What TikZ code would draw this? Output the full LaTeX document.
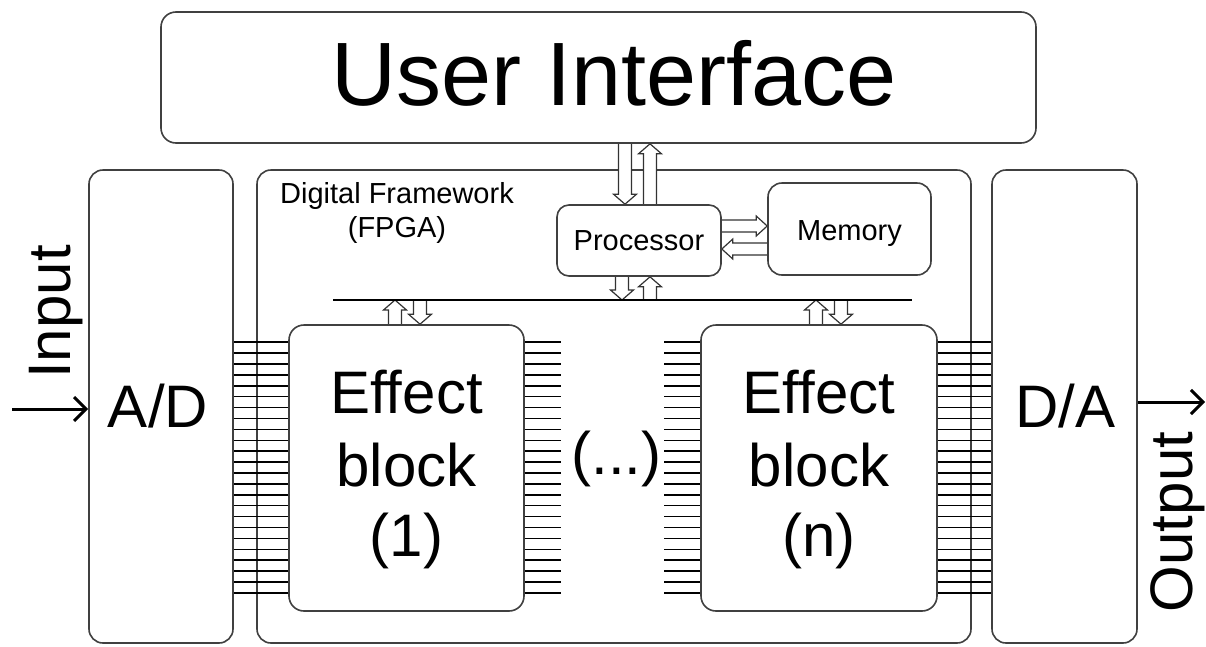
\documentclass[tikz,border=0pt]{standalone}
\usepackage{fontspec}
\setmainfont{Liberation Sans}
\usetikzlibrary{calc,arrows.meta}
\pgfdeclarelayer{back}
\pgfdeclarelayer{mid}
\pgfsetlayers{back,mid,main}

\tikzset{
  box/.style={draw=black!75, line width=1.6pt, rounded corners=14pt, fill=white,
    inner sep=0pt, anchor=center},
  smallbox/.style={box, rounded corners=12pt, font=\fontsize{29}{29}\selectfont},
  pin/.style={draw=black, line width=1.5pt},
  busline/.style={draw=black, line width=2pt},
  hollow/.style={draw=black!80, line width=1.2pt, fill=white, line join=miter},
  sig/.style={line width=3pt, -{Straight Barb[length=12pt,width=24pt,line width=3pt]}},
  big/.style={font=\fontsize{60}{60}\selectfont, anchor=base, inner sep=0pt},
  label/.style={font=\fontsize{29}{29}\selectfont, anchor=base, inner sep=0pt},
}

% vertical hollow arrow: x, from, to, direction (+1 down, -1 up)
\newcommand\varrow[4]{%
  \draw[hollow] let \p1=(#2), \p2=(#3) in
    ({#1pt-6.5pt},\y1) -- ({#1pt-6.5pt},{\y2+(#4)*10pt})
    -- ({#1pt-11.5pt},{\y2+(#4)*10pt}) -- ({#1pt},\y2)
    -- ({#1pt+11.5pt},{\y2+(#4)*10pt}) -- ({#1pt+6.5pt},{\y2+(#4)*10pt})
    -- ({#1pt+6.5pt},\y1);}
% horizontal hollow arrow: y, from, to, direction (+1 right, -1 left)
\newcommand\harrow[4]{%
  \draw[hollow] let \p1=(#2), \p2=(#3) in
    (\x1,{-#1pt+6pt}) -- ({\x2-(#4)*11pt},{-#1pt+6pt})
    -- ({\x2-(#4)*11pt},{-#1pt+10pt}) -- (\x2,{-#1pt})
    -- ({\x2-(#4)*11pt},{-#1pt-10pt}) -- ({\x2-(#4)*11pt},{-#1pt-6pt})
    -- (\x1,{-#1pt-6pt});}

\begin{document}
\begin{tikzpicture}[x=1pt,y=-1pt]
\useasboundingbox (0,0) rectangle (1206,646);

% outer frame of the FPGA
\begin{pgfonlayer}{back}
  \node[box, minimum width=714pt, minimum height=473pt] (fw) at (614,406.5) {};
\end{pgfonlayer}

% main blocks
\node[box, rounded corners=15pt, minimum width=875pt, minimum height=131pt] (ui) at (598.5,77.5) {};
\node[box, minimum width=144pt, minimum height=473pt] (ad) at (161,406.5) {};
\node[box, minimum width=145pt, minimum height=473pt] (da) at (1064.5,406.5) {};
\node[smallbox, minimum width=164pt, minimum height=71pt] (proc) at (639,240.5) {Processor};
\node[smallbox, rounded corners=14pt, minimum width=163pt, minimum height=92pt] (mem) at (849.5,229) {};
\node[label] (memt) at (849.5,240) {Memory};
\node[box, rounded corners=15pt, minimum width=235pt, minimum height=286pt] (eb1) at (406.5,468) {};
\node[box, rounded corners=15pt, minimum width=236pt, minimum height=286pt] (ebn) at (819,468) {};

% texts
\node[font=\fontsize{90}{90}\selectfont, anchor=base, inner sep=0pt] (uit) at (614,105) {User Interface};
\node[label] (fwa) at (397,203) {Digital Framework};
\node[label] (fwb) at (397,237) {(FPGA)};
\node[big] (adt) at (158,427) {A/D};
\node[big] (dat) at (1065,427) {D/A};
\node[big] (e1a) at (406.5,413) {Effect};
\node[big] (e1b) at (406.5,486) {block};
\node[big] (e1c) at (406.5,556) {(1)};
\node[big] (ena) at (819,413) {Effect};
\node[big] (enb) at (819,486) {block};
\node[big] (enc) at (819,556) {(n)};
\node[big] (dots) at (616.5,474) {(...)};
\node[big, rotate=90] (int) at (70,312) {Input};
\node[big, rotate=90] (outt) at (1192,522) {Output};

% internal bus
\coordinate (busL) at (333,300);
\coordinate (busR) at (912,300);
\draw[busline] (busL) -- (busR);

% data lines between the blocks
\foreach \k in {0,...,23}{
  \path (eb1.north west) ++(0,{18+\k*10.9}) coordinate (pa);
  \draw[pin] (pa) -- (pa -| ad.east);
  \path (eb1.north east) ++(0,{18+\k*10.9}) coordinate (pb);
  \draw[pin] (pb) -- ++(36,0);
  \path (ebn.north west) ++(0,{18+\k*10.9}) coordinate (pc);
  \draw[pin] (pc) -- ++(-36,0);
  \path (ebn.north east) ++(0,{18+\k*10.9}) coordinate (pd);
  \draw[pin] (pd) -- (pd -| da.west);
}

% hollow control arrows
\begin{pgfonlayer}{mid}
  \varrow{625}{ui.south}{proc.north}{1}
  \varrow{650}{proc.north}{ui.south}{-1}
  \harrow{226}{proc.east}{mem.west}{1}
  \harrow{249}{mem.west}{proc.east}{-1}
  \varrow{622}{proc.south}{busL}{1}
  \varrow{650}{busL}{proc.south}{-1}
  \varrow{395}{eb1.north}{busL}{-1}
  \varrow{420}{busL}{eb1.north}{1}
  \varrow{816}{ebn.north}{busL}{-1}
  \varrow{841}{busL}{ebn.north}{1}
\end{pgfonlayer}

% signal in and out
\coordinate (inS) at (12,409);
\coordinate (outE) at (1205,402);
\draw[sig] (inS) -- (inS -| ad.west);
\draw[sig] (outE -| da.east) -- (outE);
\end{tikzpicture}
\end{document}
